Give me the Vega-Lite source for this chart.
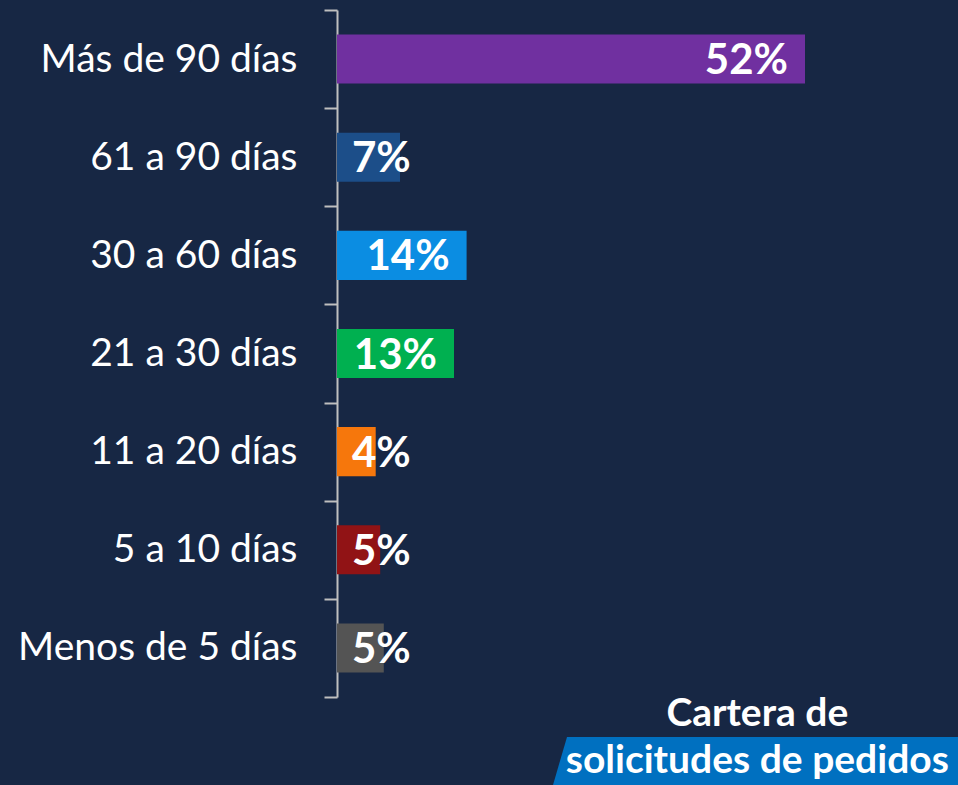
{
  "$schema": "https://vega.github.io/schema/vega-lite/v6.json",
  "width": 621,
  "height": 687,
  "autosize": {"type": "none"},
  "padding": {"left": 337, "top": 10, "right": 0, "bottom": 88},
  "background": "#172744",
  "config": {"view": {"stroke": null}, "font": "Lato"},
  "data": {
    "values": [
      {"rango": "Más de 90 días", "valor": 52.0, "etiqueta": "52%"},
      {"rango": "61 a 90 días", "valor": 7.0, "etiqueta": "7%"},
      {"rango": "30 a 60 días", "valor": 14.4, "etiqueta": "14%"},
      {"rango": "21 a 30 días", "valor": 13.0, "etiqueta": "13%"},
      {"rango": "11 a 20 días", "valor": 4.3, "etiqueta": "4%"},
      {"rango": "5 a 10 días", "valor": 4.8, "etiqueta": "5%"},
      {"rango": "Menos de 5 días", "valor": 5.2, "etiqueta": "5%"}
    ]
  },
  "encoding": {
    "y": {
      "field": "rango",
      "type": "nominal",
      "sort": ["Más de 90 días", "61 a 90 días", "30 a 60 días", "21 a 30 días", "11 a 20 días", "5 a 10 días", "Menos de 5 días"],
      "scale": {"paddingInner": 0, "paddingOuter": 0},
      "axis": {
        "title": null,
        "domainColor": "#bfbfbf",
        "domainWidth": 2,
        "tickColor": "#bfbfbf",
        "tickWidth": 2,
        "tickSize": 13,
        "tickBand": "extent",
        "labelFont": "Lato",
        "labelFontSize": 39,
        "labelColor": "#ffffff",
        "labelPadding": 27,
        "labelLimit": 400
      }
    }
  },
  "layer": [
    {
      "mark": {"type": "bar", "opacity": 1, "height": {"band": 0.5}},
      "encoding": {
        "x": {"field": "valor", "type": "quantitative", "scale": {"domain": [0, 69], "nice": false}, "axis": null},
        "color": {
          "field": "rango",
          "type": "nominal",
          "scale": {
            "domain": ["Más de 90 días", "61 a 90 días", "30 a 60 días", "21 a 30 días", "11 a 20 días", "5 a 10 días", "Menos de 5 días"],
            "range": ["#7030a0", "#1c4e89", "#0b8de2", "#00b050", "#f6770c", "#911315", "#545454"]
          },
          "legend": null
        }
      }
    },
    {
      "transform": [{"filter": "datum.valor >= 10"}],
      "mark": {"type": "text", "align": "right", "baseline": "middle", "dx": -17, "dy": 2, "fontSize": 42, "fontWeight": "bold", "color": "#ffffff", "font": "Lato"},
      "encoding": {
        "x": {"field": "valor", "type": "quantitative"},
        "text": {"field": "etiqueta"}
      }
    },
    {
      "transform": [{"filter": "datum.valor < 10"}],
      "mark": {"type": "text", "align": "left", "baseline": "middle", "dx": 15, "dy": 2, "fontSize": 42, "fontWeight": "bold", "color": "#ffffff", "font": "Lato"},
      "encoding": {
        "x": {"datum": 0, "type": "quantitative"},
        "text": {"field": "etiqueta"}
      }
    },
    {
      "data": {"values": [{"rango": "Menos de 5 días"}]},
      "mark": {"type": "point", "shape": "M -391 89 L 0 89 L 0 137 L -405 137 Z", "size": 4, "filled": true, "fill": "#0070c0", "opacity": 1, "strokeWidth": 0},
      "encoding": {
        "x": {"datum": 69, "type": "quantitative"}
      }
    },
    {
      "data": {"values": [{"rango": "Menos de 5 días"}]},
      "mark": {"type": "text", "text": ["Cartera de", "solicitudes de pedidos"], "align": "center", "baseline": "alphabetic", "dy": 78, "lineHeight": 47, "fontSize": 39, "fontWeight": "bold", "color": "#ffffff", "font": "Lato"},
      "encoding": {
        "x": {"datum": 46.7, "type": "quantitative"}
      }
    }
  ]
}
